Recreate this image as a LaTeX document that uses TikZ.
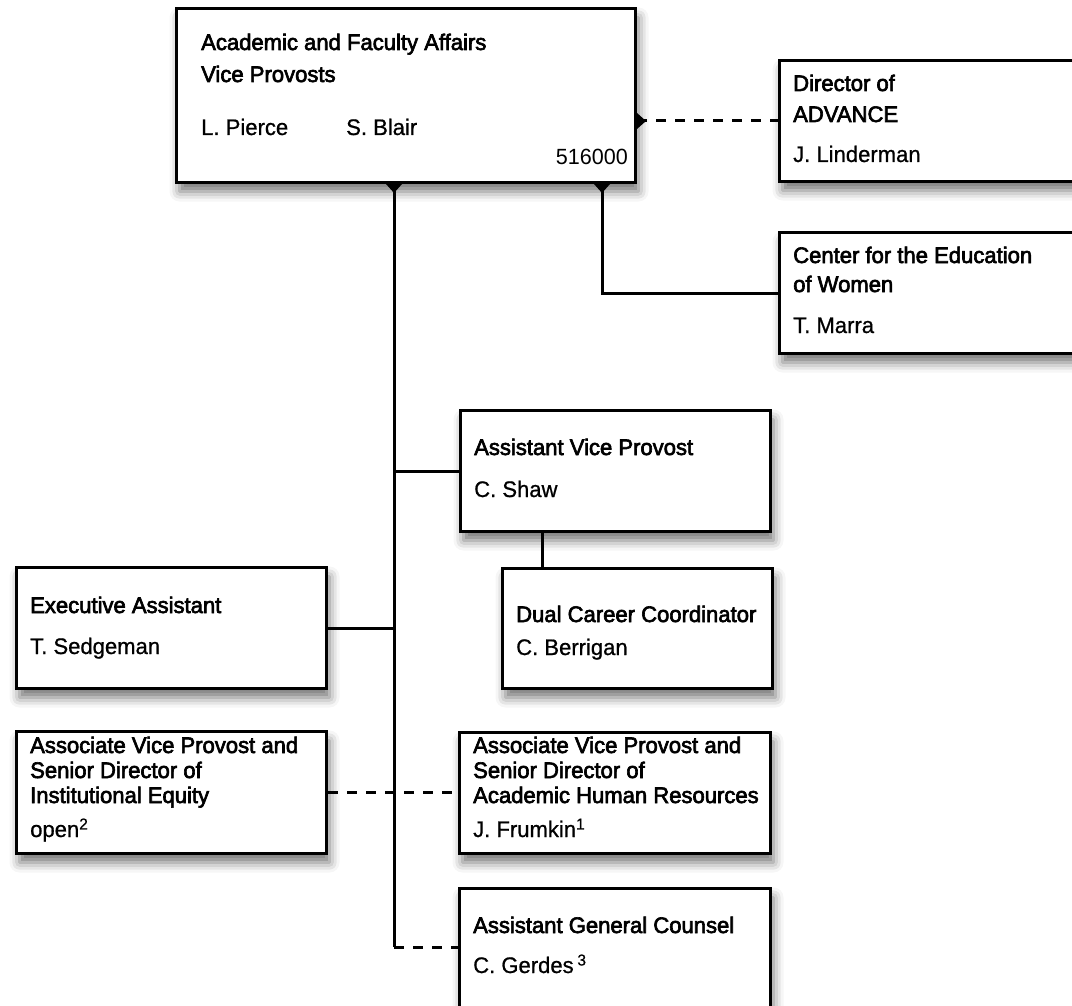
\documentclass[tikz,border=0pt]{standalone}
\usepackage{fontspec}
\setmainfont[FakeStretch=0.98,FakeBold=0.8]{Liberation Sans}
\newfontfamily\titlefont[FakeStretch=0.98,FakeBold=2.8]{Liberation Sans}
\newfontfamily\codefont[FakeStretch=0.98]{Liberation Sans}
\usetikzlibrary{shadows.blur}

\tikzset{
  unitbox/.style={draw=black, line width=3pt, fill=white, rectangle, inner sep=0pt, anchor=north west,
    blur shadow={shadow xshift=3pt, shadow yshift=-9pt, shadow blur radius=10pt, shadow opacity=55}},
  heading/.style={anchor=base west, inner sep=0pt, align=left, font=\titlefont\fontsize{22.5}{#1}\selectfont},
  heading/.default=25,
  person/.style={anchor=base west, inner sep=0pt, font=\fontsize{22.5}{25}\selectfont},
  conn/.style={line width=3pt},
  dashconn/.style={line width=3pt, dash pattern=on 10pt off 9pt},
}

\begin{document}
\begin{tikzpicture}[x=1pt,y=-1pt]
\useasboundingbox (0,0) rectangle (1072,1006);
\clip (0,0) rectangle (1072,1006);

\node[unitbox, minimum width=459pt, minimum height=174pt] (vp) at (175,7) {};
\node[unitbox, minimum width=320pt, minimum height=121pt] (adv) at (778,59) {};
\node[unitbox, minimum width=320pt, minimum height=121pt] (cew) at (778,231) {};
\node[unitbox, minimum width=310pt, minimum height=121pt] (avp) at (459,409) {};
\node[unitbox, minimum width=270pt, minimum height=120pt] (dcc) at (501,567) {};
\node[unitbox, minimum width=310pt, minimum height=121pt] (exa) at (15,566) {};
\node[unitbox, minimum width=310pt, minimum height=122pt] (ieq) at (15,730) {};
\node[unitbox, minimum width=311pt, minimum height=121pt] (ahr) at (458,731) {};
\node[unitbox, minimum width=311pt, minimum height=150pt] (agc) at (458,887) {};

\node[heading=32] (vpT) at (201,82) {Academic and Faculty Affairs\\Vice Provosts};
\node[person] (vpA) at (201,135) {L. Pierce};
\node[person] (vpB) at (346,135) {S. Blair};
\node[person, anchor=base east, font=\codefont\fontsize{22}{25}\selectfont] (vpNo) at (628,165) {516000};

\node[heading=31] (advT) at (793,122) {Director of\\ADVANCE};
\node[person] (advN) at (793,162) {J. Linderman};

\node[heading=29] (cewT) at (793,292) {Center for the Education\\of Women};
\node[person] (cewN) at (793,333) {T. Marra};

\node[heading] (avpT) at (474,455) {Assistant Vice Provost};
\node[person] (avpN) at (474,497) {C. Shaw};

\node[heading] (dccT) at (516,622) {Dual Career Coordinator};
\node[person] (dccN) at (516,655) {C. Berrigan};

\node[heading] (exaT) at (30,613) {Executive Assistant};
\node[person] (exaN) at (30,654) {T. Sedgeman};

\node[heading] (ieqT) at (30,803) {Associate Vice Provost and\\Senior Director of\\Institutional Equity};
\node[person] (ieqN) at (30,837) {open\textsuperscript{2}};

\node[heading] (ahrT) at (473,803) {Associate Vice Provost and\\Senior Director of\\Academic Human Resources};
\node[person] (ahrN) at (473,837) {J. Frumkin\textsuperscript{1}};

\node[heading] (agcT) at (473,933) {Assistant General Counsel};
\node[person] (agcN) at (473,973) {C. Gerdes\,\textsuperscript{3}};

\coordinate (trunk) at (394,947);
\coordinate (cewx) at (602,0);
\coordinate (dccx) at (542,0);

\draw[conn] (vp.south -| trunk) -- (trunk);
\draw[dashconn] (trunk) -- (agc.west |- trunk);
\draw[conn] (avp.west) -- (avp.west -| trunk);
\draw[conn] (exa.east) -- (exa.east -| trunk);
\draw[dashconn] (ieq.east) -- (ahr.west |- ieq.east);
\draw[conn] (avp.south -| dccx) -- (dcc.north -| dccx);
\draw[conn] (vp.south -| cewx) |- (cew.west);
\draw[dashconn] (adv.west -| vp.east) -- (adv.west);

\fill (vp.south -| trunk) +(-8,0) -- +(8,0) -- +(0,9) -- cycle;
\fill (vp.south -| cewx) +(-8,0) -- +(8,0) -- +(0,9) -- cycle;
\fill (adv.west -| vp.east) +(0,-8) -- +(0,8) -- +(9,0) -- cycle;
\end{tikzpicture}
\end{document}
